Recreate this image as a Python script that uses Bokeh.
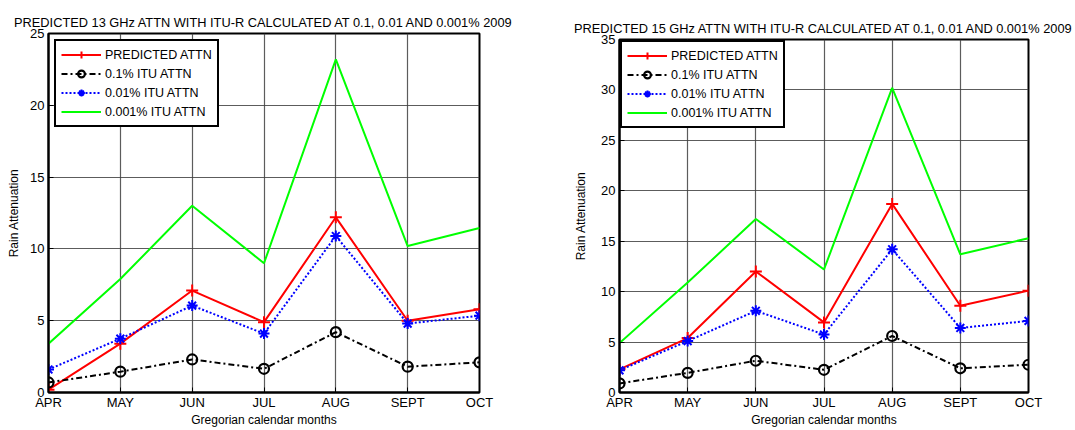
from bokeh.plotting import figure
from bokeh.layouts import row, column
from bokeh.models import FixedTicker, Range1d, Spacer
from bokeh.embed import file_html
from bokeh.resources import INLINE

months = ["APR", "MAY", "JUN", "JUL", "AUG", "SEPT", "OCT"]

# 13 GHz
pred13 = [0.2, 3.4, 7.1, 4.9, 12.2, 5.0, 5.8]
itu01_13 = [0.7, 1.45, 2.3, 1.65, 4.2, 1.8, 2.1]
itu001_13 = [1.6, 3.75, 6.05, 4.1, 10.9, 4.8, 5.35]
itu0001_13 = [3.4, 7.9, 13.0, 9.0, 23.2, 10.2, 11.45]

# 15 GHz
pred15 = [2.3, 5.4, 12.0, 6.95, 18.7, 8.6, 10.1]
itu01_15 = [0.9, 1.95, 3.15, 2.25, 5.6, 2.4, 2.75]
itu001_15 = [2.2, 5.1, 8.1, 5.75, 14.2, 6.4, 7.1]
itu0001_15 = [4.9, 10.9, 17.2, 12.2, 30.2, 13.7, 15.3]

FONT = "Liberation Sans"


def make(title, pred, a01, a001, a0001, ymax, w, h, bl, br, bt, lab_standoff, legend_margin, tstand):
    x = list(range(len(months)))
    p = figure(width=w, height=h, output_backend="svg", toolbar_location=None,
               x_range=Range1d(0, len(months) - 1), y_range=Range1d(0, ymax),
               min_border_left=bl, min_border_right=br, min_border_top=bt,
               min_border_bottom=38, title=title)
    p.title.text_font = FONT
    p.title.text_font_size = "12.8px"
    p.title.text_font_style = "normal"
    p.title.text_color = "black"
    p.title.align = "center"
    p.title.standoff = tstand

    p.outline_line_color = "black"
    p.outline_line_width = 2
    p.outline_line_alpha = 1

    p.xaxis.ticker = FixedTicker(ticks=x)
    p.xaxis.major_label_overrides = {i: m for i, m in enumerate(months)}
    p.yaxis.ticker = FixedTicker(ticks=list(range(0, ymax + 1, 5)))
    for ax in (p.xaxis[0], p.yaxis[0]):
        ax.axis_line_color = "black"
        ax.axis_line_width = 2
        ax.major_tick_in = 5
        ax.major_tick_out = 0
        ax.minor_tick_in = 0
        ax.minor_tick_out = 0
        ax.major_label_text_font = FONT
        ax.major_label_text_font_size = "13px"
        ax.major_label_text_color = "black"
        ax.axis_label_text_font = FONT
        ax.axis_label_text_font_size = "12px"
        ax.axis_label_text_font_style = "normal"
        ax.axis_label_text_color = "black"
        ax.major_label_standoff = 4
    p.xaxis.major_label_standoff = 2
    p.xaxis.axis_label = "Gregorian calendar months"
    p.xaxis.axis_label_standoff = 0
    p.yaxis.axis_label = "Rain Attenuation"
    p.yaxis.axis_label_standoff = lab_standoff

    p.grid.grid_line_color = "#404040"
    p.grid.grid_line_alpha = 0.85
    p.grid.grid_line_width = 1.2

    p.line(x, pred, color="#FF0000", line_width=2, legend_label="PREDICTED ATTN")
    p.scatter(x, pred, marker="cross", size=12, line_color="#FF0000", line_width=2,
              legend_label="PREDICTED ATTN")

    p.line(x, a01, color="black", line_width=2, line_dash="6 3 2 3", legend_label="0.1% ITU ATTN")
    p.scatter(x, a01, marker="circle", size=10, fill_color=None, line_color="black",
              line_width=2.2, legend_label="0.1% ITU ATTN")

    p.line(x, a001, color="#0000FF", line_width=2, line_dash="2 2", legend_label="0.01% ITU ATTN")
    p.scatter(x, a001, marker="asterisk", size=11, line_color="#0000FF", line_width=2,
              legend_label="0.01% ITU ATTN")

    p.line(x, a0001, color="#00FF00", line_width=2, legend_label="0.001% ITU ATTN")

    lg = p.legend[0]
    lg.location = "top_left"
    lg.margin = legend_margin
    lg.padding = 5
    lg.spacing = 2
    lg.label_height = 17
    lg.glyph_height = 17
    lg.glyph_width = 40
    lg.label_standoff = 4
    lg.label_text_font = FONT
    lg.label_text_font_size = "12.5px"
    lg.label_text_color = "black"
    lg.border_line_color = "black"
    lg.border_line_width = 2
    lg.border_line_alpha = 1
    lg.background_fill_alpha = 1
    return p


p1 = make("PREDICTED 13 GHz ATTN WITH ITU-R CALCULATED AT 0.1, 0.01 AND 0.001% 2009",
          pred13, itu01_13, itu001_13, itu0001_13, 25, 540, 430, 48, 61, 33, 6, 6, 8)
p2 = make("PREDICTED 15 GHz ATTN WITH ITU-R CALCULATED AT 0.1, 0.01 AND 0.001% 2009",
          pred15, itu01_15, itu001_15, itu0001_15, 35, 535, 424, 79, 47, 33, 10, 1, 8)

layout = row(p1, column(Spacer(width=535, height=6), p2, spacing=0), spacing=0)
open("out.html", "w").write(file_html(layout, INLINE))
